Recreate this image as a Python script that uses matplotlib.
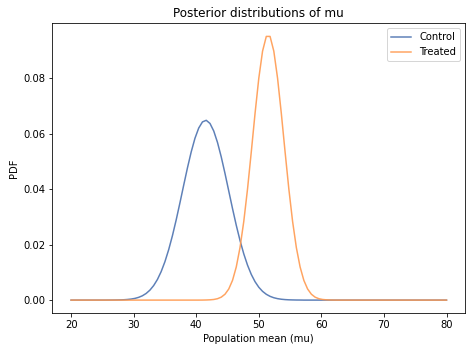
import matplotlib
matplotlib.use("Agg")
import matplotlib.pyplot as plt
import numpy as np

# grid of population means (mu), 101 points from 20 to 80
mu_start, mu_stop, mu_count = 20, 80, 101

control_pdf = [
    0.0, 0.0, 0.0, 0.0, 0.0, 0.0, 0.0, 0.0, 0.0, 0.0,
    0.00001, 0.00002, 0.00004, 0.00007, 0.00012, 0.00022, 0.00037, 0.00061, 0.00099, 0.00156,
    0.00240, 0.00359, 0.00524, 0.00743, 0.01028, 0.01385, 0.01818, 0.02323, 0.02892, 0.03507,
    0.04143, 0.04766, 0.05341, 0.05831, 0.06200, 0.06421, 0.06478, 0.06365, 0.06093, 0.05680,
    0.05158, 0.04562, 0.03930, 0.03298, 0.02696, 0.02147, 0.01665, 0.01258, 0.00925, 0.00663,
    0.00463, 0.00315, 0.00209, 0.00135, 0.00085, 0.00052, 0.00031, 0.00018, 0.00010, 0.00006,
    0.00003, 0.00002, 0.0, 0.0, 0.0, 0.0, 0.0, 0.0, 0.0, 0.0,
    0.0, 0.0, 0.0, 0.0, 0.0, 0.0, 0.0, 0.0, 0.0, 0.0,
    0.0, 0.0, 0.0, 0.0, 0.0, 0.0, 0.0, 0.0, 0.0, 0.0,
    0.0, 0.0, 0.0, 0.0, 0.0, 0.0, 0.0, 0.0, 0.0, 0.0,
    0.0,
]

treated_pdf = [
    0.0, 0.0, 0.0, 0.0, 0.0, 0.0, 0.0, 0.0, 0.0, 0.0,
    0.0, 0.0, 0.0, 0.0, 0.0, 0.0, 0.0, 0.0, 0.0, 0.0,
    0.0, 0.0, 0.0, 0.0, 0.0, 0.0, 0.0, 0.0, 0.0, 0.0,
    0.0, 0.0, 0.0, 0.0, 0.0, 0.00001, 0.00004, 0.00010, 0.00022, 0.00050,
    0.00106, 0.00212, 0.00400, 0.00711, 0.01194, 0.01894, 0.02835, 0.04005, 0.05341, 0.06725,
    0.07994, 0.08970, 0.09501, 0.09501, 0.08970, 0.07994, 0.06725, 0.05341, 0.04005, 0.02835,
    0.01894, 0.01194, 0.00711, 0.00400, 0.00212, 0.00106, 0.00050, 0.00022, 0.00010, 0.00004,
    0.00001, 0.0, 0.0, 0.0, 0.0, 0.0, 0.0, 0.0, 0.0, 0.0,
    0.0, 0.0, 0.0, 0.0, 0.0, 0.0, 0.0, 0.0, 0.0, 0.0,
    0.0, 0.0, 0.0, 0.0, 0.0, 0.0, 0.0, 0.0, 0.0, 0.0,
    0.0,
]

series_labels = ["Control", "Treated"]

mu = np.linspace(mu_start, mu_stop, mu_count)

fig = plt.figure(figsize=(472 / 72, 352 / 72), dpi=72)
ax = fig.add_axes([0.1108, 0.110, 0.875, 0.824])

ax.plot(mu, control_pdf, color="#4C72B0", lw=1.5, alpha=0.9, label=series_labels[0])
ax.plot(mu, treated_pdf, color="#FF9A50", lw=1.5, alpha=0.9, label=series_labels[1])

ax.set_xticks([20, 30, 40, 50, 60, 70, 80])
ax.set_yticks([0.0, 0.02, 0.04, 0.06, 0.08])
ax.set_xlabel("Population mean (mu)")
ax.set_ylabel("PDF")
ax.set_title("Posterior distributions of mu")
ax.legend(loc="upper right")

fig.savefig("out.png", dpi=72)
